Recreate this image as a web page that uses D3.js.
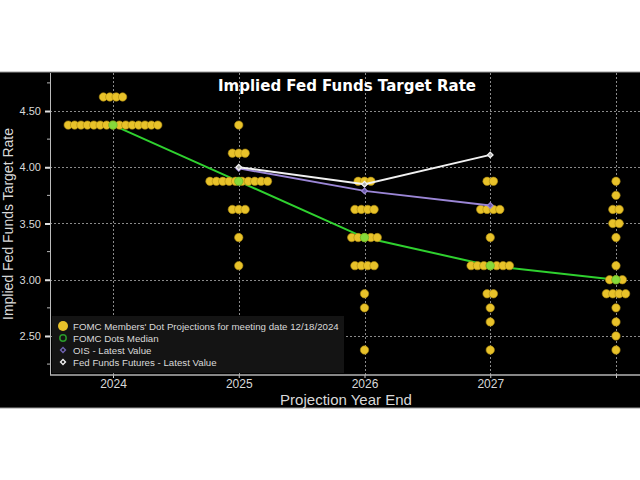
<!DOCTYPE html>
<html>
<head>
<meta charset="utf-8">
<script src="https://cdn.jsdelivr.net/npm/d3@7"></script>
<style>
  body { margin: 0; background: #fff; }
  svg { display: block; }
</style>
</head>
<body>
<script>
// Projection horizons (x categories) and their tick labels
const categories = ["2024", "2025", "2026", "2027", "LR"];
const tickLabels = ["2024", "2025", "2026", "2027", ""];
const yTicks = [2.5, 3.0, 3.5, 4.0, 4.5];
const yMinorTicks = [2.25, 2.75, 3.25, 3.75, 4.25, 4.75];

// FOMC dots: [rate, number of participants] for each horizon
const dots2024 = [[4.625, 4], [4.375, 15]];
const dots2025 = [[4.375, 1], [4.125, 3], [3.875, 10], [3.625, 3], [3.375, 1], [3.125, 1]];
const dots2026 = [[3.875, 3], [3.625, 4], [3.375, 5], [3.125, 4], [2.875, 1], [2.75, 1], [2.375, 1]];
const dots2027 = [[3.875, 2], [3.625, 4], [3.375, 1], [3.125, 7], [2.875, 2], [2.75, 1], [2.625, 1], [2.375, 1]];
const dotsLR = [[3.875, 1], [3.75, 1], [3.625, 2], [3.5, 2], [3.375, 1], [3.125, 1], [3.0, 3],
                [2.875, 4], [2.75, 1], [2.625, 1], [2.5, 1], [2.375, 1]];
const dotsByYear = [dots2024, dots2025, dots2026, dots2027, dotsLR];

// Median of the dots
const medianValues = [4.375, 3.875, 3.375, 3.125, 3.0];

// Market implied paths
const marketCategories = ["2025", "2026", "2027"];
const oisValues = [3.99, 3.79, 3.66];
const futuresValues = [4.00, 3.85, 4.11];

const legendLabels = [
  "FOMC Members' Dot Projections for meeting date 12/18/2024",
  "FOMC Dots Median",
  "OIS - Latest Value",
  "Fed Funds Futures - Latest Value"
];

const W = 640, H = 480;
const panel = { top: 72, bottom: 408 };
const plot = { left: 50, right: 640, top: 73, bottom: 375 };

const dotColor = "#e8c22a";
const medianColor = "#2fd12f";
const oisColor = "#9b86d6";
const futColor = "#f2f2f2";
const textColor = "#d9d9d9";

const svg = d3.select("body").append("svg")
  .attr("width", W)
  .attr("height", H);

// black chart panel
svg.append("rect")
  .attr("x", -1).attr("y", panel.top)
  .attr("width", W + 2).attr("height", panel.bottom - panel.top)
  .attr("fill", "#000")
  .attr("stroke", "#9a9a9a")
  .attr("stroke-width", 1);

const x = d3.scalePoint()
  .domain(categories)
  .range([113, 616]);

const y = d3.scaleLinear()
  .domain([2.153, 4.838])
  .range([plot.bottom, plot.top]);

// grid
const grid = svg.append("g").attr("stroke", "#8a8a8a").attr("stroke-dasharray", "2,2").attr("stroke-width", 1);
grid.selectAll(".hg").data(yTicks).enter().append("line")
  .attr("x1", plot.left).attr("x2", plot.right)
  .attr("y1", d => Math.round(y(d)) + 0.5).attr("y2", d => Math.round(y(d)) + 0.5);
grid.selectAll(".vg").data(categories).enter().append("line")
  .attr("x1", d => Math.round(x(d)) + 0.5).attr("x2", d => Math.round(x(d)) + 0.5)
  .attr("y1", plot.top).attr("y2", plot.bottom);

// y axis
const yAxis = svg.append("g")
  .attr("transform", "translate(" + plot.left + ",0)")
  .call(d3.axisLeft(y).tickValues(yTicks).tickSize(5).tickPadding(4).tickFormat(d3.format(".2f")));
yAxis.select(".domain").remove();
yAxis.selectAll(".tick line").attr("stroke", "#e0e0e0").attr("stroke-width", 2);
yAxis.selectAll(".tick text")
  .attr("fill", textColor)
  .style("font-family", "Liberation Sans, Arial, sans-serif")
  .style("font-size", "11px");

svg.append("g").selectAll("line").data(yMinorTicks).enter().append("line")
  .attr("x1", plot.left - 3).attr("x2", plot.left)
  .attr("y1", d => y(d)).attr("y2", d => y(d))
  .attr("stroke", "#bbb").attr("stroke-width", 1);

svg.append("line")
  .attr("x1", plot.left + 0.5).attr("x2", plot.left + 0.5)
  .attr("y1", plot.top).attr("y2", plot.bottom)
  .attr("stroke", "#bbb").attr("stroke-width", 1);

// x axis
const xAxis = svg.append("g")
  .attr("transform", "translate(0," + plot.bottom + ")")
  .call(d3.axisBottom(x).tickSize(3).tickPadding(1).tickFormat((d, i) => tickLabels[i]));
xAxis.select(".domain").remove();
xAxis.selectAll(".tick line").attr("stroke", "#ccc");
xAxis.selectAll(".tick text")
  .attr("fill", textColor)
  .style("font-family", "Liberation Sans, Arial, sans-serif")
  .style("font-size", "12px");

svg.append("line")
  .attr("x1", plot.left).attr("x2", plot.right)
  .attr("y1", plot.bottom).attr("y2", plot.bottom)
  .attr("stroke", "#b5b5b5").attr("stroke-width", 1.5);

// legend background (drawn before marks)
const legend = svg.append("g");
legend.append("rect")
  .attr("x", 52).attr("y", 316)
  .attr("width", 292).attr("height", 57)
  .attr("fill", "#141414");

// median line (under dots)
const medLine = d3.line().x((d, i) => x(categories[i])).y(d => y(d));
svg.append("path")
  .attr("d", medLine(medianValues))
  .attr("fill", "none")
  .attr("stroke", medianColor)
  .attr("stroke-width", 2);

// FOMC dots
const step = 6.4;
const dotData = [];
dotsByYear.forEach((rows, ci) => {
  rows.forEach(([rate, n]) => {
    for (let i = 0; i < n; i++) {
      dotData.push({ cat: categories[ci], rate: rate, off: (i - (n - 1) / 2) * step });
    }
  });
});
svg.append("g").selectAll("circle").data(dotData).enter().append("circle")
  .attr("cx", d => x(d.cat) + d.off)
  .attr("cy", d => y(d.rate))
  .attr("r", 4.2)
  .attr("fill", dotColor)
  .attr("stroke", "#a8870f")
  .attr("stroke-width", 0.6);

// median markers
svg.append("g").selectAll("circle").data(medianValues).enter().append("circle")
  .attr("cx", (d, i) => x(categories[i]))
  .attr("cy", d => y(d))
  .attr("r", 4.2)
  .attr("fill", "#86d93a")
  .attr("stroke", "#5fb020")
  .attr("stroke-width", 0.6);

// small diamond = rotated square
const diamond = d3.symbol(d3.symbolSquare, 16)();

// market lines
function drawPath(values, color, markerFill) {
  const line = d3.line().x((d, i) => x(marketCategories[i])).y(d => y(d));
  svg.append("path")
    .attr("d", line(values))
    .attr("fill", "none")
    .attr("stroke", color)
    .attr("stroke-width", 2);
  svg.append("g").selectAll("path").data(values).enter().append("path")
    .attr("d", diamond)
    .attr("transform", (d, i) => "translate(" + x(marketCategories[i]) + "," + y(d) + ") rotate(45)")
    .attr("fill", markerFill)
    .attr("stroke", color)
    .attr("stroke-width", 1.2);
}
drawPath(oisValues, oisColor, "#6a5aa8");
drawPath(futuresValues, futColor, "#b0b0b0");

// legend entries
const ly = [326, 338, 350, 362];
legend.append("circle").attr("cx", 63).attr("cy", ly[0]).attr("r", 5).attr("fill", dotColor);
legend.append("circle").attr("cx", 63).attr("cy", ly[1]).attr("r", 3.2)
  .attr("fill", "none").attr("stroke", "#2a9a2a").attr("stroke-width", 1.5);
legend.append("path").attr("d", d3.symbol(d3.symbolSquare, 12)())
  .attr("transform", "translate(63," + ly[2] + ") rotate(45)")
  .attr("fill", "none").attr("stroke", "#6f62b0").attr("stroke-width", 1.4);
legend.append("path").attr("d", d3.symbol(d3.symbolSquare, 12)())
  .attr("transform", "translate(63," + ly[3] + ") rotate(45)")
  .attr("fill", "none").attr("stroke", "#eee").attr("stroke-width", 1.4);
legend.selectAll("text").data(legendLabels).enter().append("text")
  .attr("x", 73)
  .attr("y", (d, i) => ly[i] + 3.5)
  .attr("fill", textColor)
  .style("font-family", "Liberation Sans, Arial, sans-serif")
  .style("font-size", "9.7px")
  .text(d => d);

// titles
svg.append("text")
  .attr("x", 347).attr("y", 91)
  .attr("text-anchor", "middle")
  .attr("fill", "#fff")
  .style("font-family", "DejaVu Sans, sans-serif")
  .style("font-weight", "bold")
  .style("font-size", "15px")
  .text("Implied Fed Funds Target Rate");

svg.append("text")
  .attr("transform", "translate(13,224) rotate(-90)")
  .attr("text-anchor", "middle")
  .attr("fill", textColor)
  .style("font-family", "Liberation Sans, Arial, sans-serif")
  .style("font-size", "14px")
  .text("Implied Fed Funds Target Rate");

svg.append("text")
  .attr("x", 346).attr("y", 405)
  .attr("text-anchor", "middle")
  .attr("fill", textColor)
  .style("font-family", "Liberation Sans, Arial, sans-serif")
  .style("font-size", "15px")
  .text("Projection Year End");
</script>
</body>
</html>
